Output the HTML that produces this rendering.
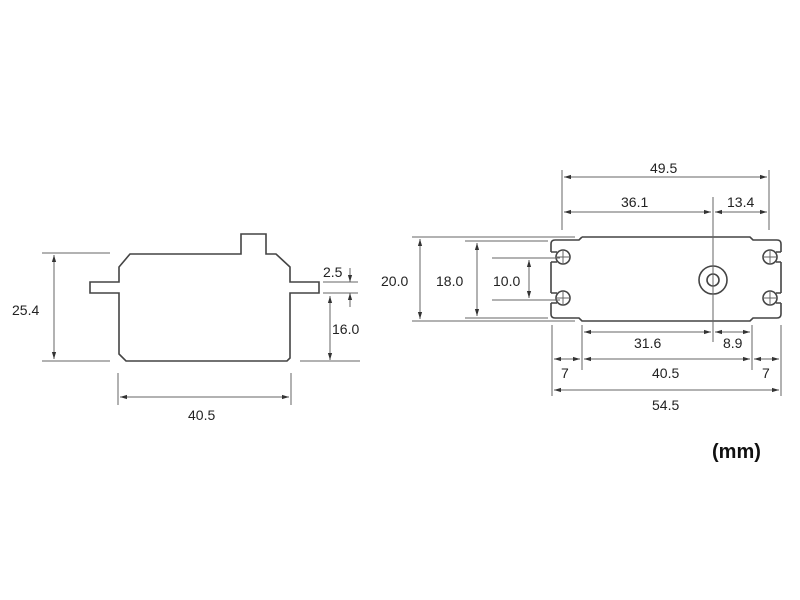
<!DOCTYPE html>
<html><head><meta charset="utf-8"><style>
html,body{margin:0;padding:0;background:#fff;}
svg{display:block;}
text{font-family:"Liberation Sans",sans-serif;font-size:14px;fill:#222;}
</style></head><body>
<svg width="800" height="600" viewBox="0 0 800 600" xmlns="http://www.w3.org/2000/svg">
<defs>
<marker id="a" viewBox="0 0 10 10" refX="10" refY="5" markerWidth="7" markerHeight="7" orient="auto-start-reverse"><path d="M0,2 L10,5 L0,8 z" fill="#333"/></marker>
</defs>
<g fill="none" stroke="#444" stroke-width="1.6">
<path d="M130,254 L241,254 L241,234 L266,234 L266,254 L276,254 L290,267 L290,282 L319,282 L319,293 L290,293 L290,358 L287,361 L126,361 L119,354 L119,293 L90,293 L90,282 L119,282 L119,267 Z"/>
</g>
<g stroke="#666" stroke-width="1" fill="none">
<line x1="42" y1="253" x2="110" y2="253"/><line x1="42" y1="361" x2="110" y2="361"/>
<line x1="54" y1="255" x2="54" y2="359" marker-start="url(#a)" marker-end="url(#a)"/>
<line x1="118" y1="373" x2="118" y2="405"/><line x1="291" y1="373" x2="291" y2="405"/>
<line x1="120" y1="397" x2="289" y2="397" marker-start="url(#a)" marker-end="url(#a)"/>
<line x1="323" y1="282" x2="358" y2="282"/><line x1="323" y1="293" x2="358" y2="293"/>
<line x1="300" y1="361" x2="360" y2="361"/>
<line x1="350" y1="268" x2="350" y2="282" marker-end="url(#a)"/>
<line x1="350" y1="307" x2="350" y2="293" marker-end="url(#a)"/>
<line x1="330" y1="296" x2="330" y2="360" marker-start="url(#a)" marker-end="url(#a)"/>
</g>
<text x="12" y="315">25.4</text>
<text x="188" y="420">40.5</text>
<text x="323" y="277">2.5</text>
<text x="332" y="334">16.0</text>

<g fill="none" stroke="#444" stroke-width="1.6">
<path d="M582,237 L750,237 L753,240 L777,240 Q781,240 781,244 L781,252 M781,262 L781,293 M781,303 L781,314 Q781,318 777,318 L753,318 L750,321 L582,321 L579,318 L555,318 Q551,318 551,314 L551,303 M551,293 L551,262 M551,252 L551,244 Q551,240 555,240 L579,240 L582,237"/>
<path d="M551,252 L557,252 M551,262 L557,262 M551,293 L557,293 M551,303 L557,303 M781,252 L776,252 M781,262 L776,262 M781,293 L776,293 M781,303 L776,303"/>
<circle cx="563" cy="257" r="7"/><circle cx="563" cy="298" r="7"/>
<circle cx="770" cy="257" r="7"/><circle cx="770" cy="298" r="7"/>
<circle cx="713" cy="280" r="14"/><circle cx="713" cy="280" r="6"/>
</g>
<g stroke="#666" stroke-width="1" fill="none">
<line x1="557" y1="257" x2="569" y2="257"/><line x1="563" y1="251" x2="563" y2="263"/>
<line x1="557" y1="298" x2="569" y2="298"/><line x1="563" y1="292" x2="563" y2="304"/>
<line x1="764" y1="257" x2="776" y2="257"/><line x1="770" y1="251" x2="770" y2="263"/>
<line x1="764" y1="298" x2="776" y2="298"/><line x1="770" y1="292" x2="770" y2="304"/>
<line x1="713" y1="197" x2="713" y2="342"/>
<line x1="562" y1="170" x2="562" y2="230"/><line x1="769" y1="170" x2="769" y2="230"/>
<line x1="564" y1="177" x2="767" y2="177" marker-start="url(#a)" marker-end="url(#a)"/>
<line x1="564" y1="212" x2="711" y2="212" marker-start="url(#a)" marker-end="url(#a)"/>
<line x1="715" y1="212" x2="767" y2="212" marker-start="url(#a)" marker-end="url(#a)"/>
<line x1="412" y1="237" x2="575" y2="237"/><line x1="412" y1="321" x2="575" y2="321"/>
<line x1="420" y1="239" x2="420" y2="319" marker-start="url(#a)" marker-end="url(#a)"/>
<line x1="465" y1="241" x2="548" y2="241"/><line x1="465" y1="318" x2="548" y2="318"/>
<line x1="477" y1="243" x2="477" y2="316" marker-start="url(#a)" marker-end="url(#a)"/>
<line x1="492" y1="258" x2="560" y2="258"/><line x1="492" y1="300" x2="560" y2="300"/>
<line x1="529" y1="260" x2="529" y2="298" marker-start="url(#a)" marker-end="url(#a)"/>
<line x1="582" y1="325" x2="582" y2="370"/><line x1="752" y1="325" x2="752" y2="370"/>
<line x1="584" y1="332" x2="711" y2="332" marker-start="url(#a)" marker-end="url(#a)"/>
<line x1="715" y1="332" x2="750" y2="332" marker-start="url(#a)" marker-end="url(#a)"/>
<line x1="552" y1="325" x2="552" y2="396"/><line x1="781" y1="325" x2="781" y2="396"/>
<line x1="554" y1="359" x2="580" y2="359" marker-start="url(#a)" marker-end="url(#a)"/>
<line x1="584" y1="359" x2="750" y2="359" marker-start="url(#a)" marker-end="url(#a)"/>
<line x1="754" y1="359" x2="779" y2="359" marker-start="url(#a)" marker-end="url(#a)"/>
<line x1="554" y1="390" x2="779" y2="390" marker-start="url(#a)" marker-end="url(#a)"/>
</g>
<text x="650" y="173">49.5</text>
<text x="621" y="207">36.1</text>
<text x="727" y="207">13.4</text>
<text x="381" y="286">20.0</text>
<text x="436" y="286">18.0</text>
<text x="493" y="286">10.0</text>
<text x="634" y="348">31.6</text>
<text x="723" y="348">8.9</text>
<text x="561" y="378">7</text>
<text x="652" y="378">40.5</text>
<text x="762" y="378">7</text>
<text x="652" y="410">54.5</text>
<text x="712" y="458" style="font-size:20px;font-weight:bold;fill:#111">(mm)</text>
</svg>
</body></html>
